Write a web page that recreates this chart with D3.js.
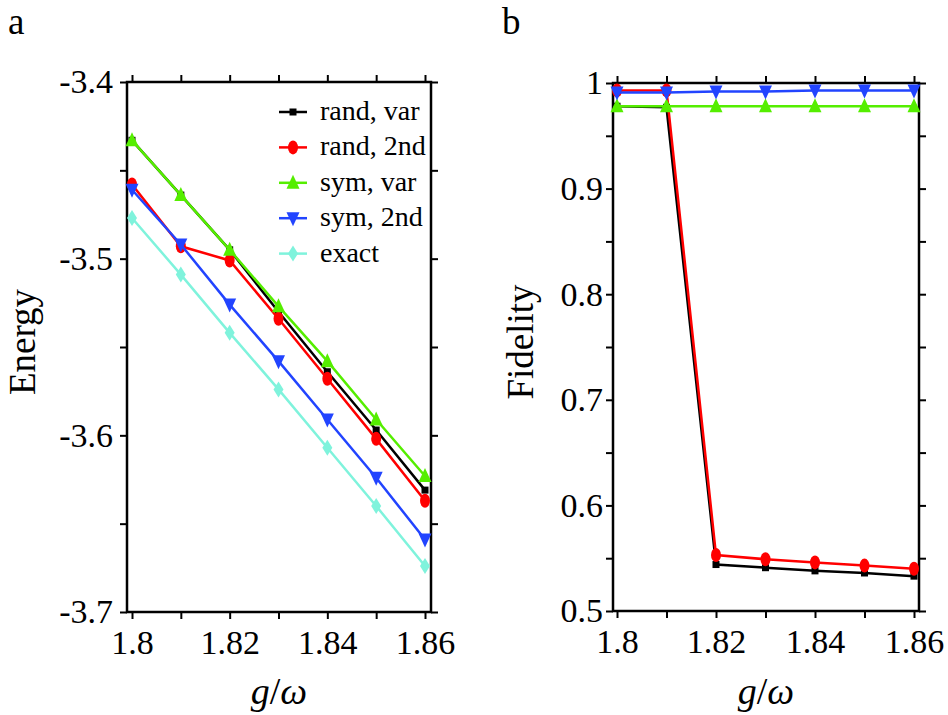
<!DOCTYPE html>
<html lang="en">
<head>
<meta charset="UTF-8">
<title>Energy and Fidelity</title>
<script src="https://d3js.org/d3.v7.min.js"></script>
<style>
  body { margin: 0; background: #fff; }
  svg text { font-family: "Liberation Serif", "Times New Roman", serif; fill: #000; }
  .domain { display: none; }
  .tick line { stroke: #000; stroke-width: 2; }
  .frame { fill: none; stroke: #000; stroke-width: 2.5; }
  .series { fill: none; stroke-width: 2.5; }
</style>
</head>
<body>
<svg width="948" height="715"></svg>
<script>
const gVals = [1.8, 1.81, 1.82, 1.83, 1.84, 1.85, 1.86];

// panel a: energy
const randVarE = [-3.433, -3.464, -3.495, -3.530, -3.564, -3.597, -3.631];
const rand2ndE = [-3.458, -3.493, -3.501, -3.534, -3.568, -3.602, -3.637];
const symVarE  = [-3.433, -3.464, -3.495, -3.527, -3.558, -3.591, -3.623];
const sym2ndE  = [-3.461, -3.492, -3.526, -3.558, -3.591, -3.624, -3.659];
const exactE   = [-3.477, -3.509, -3.542, -3.574, -3.607, -3.640, -3.674];

// panel b: fidelity
const randVarF = [0.978, 0.977, 0.544, 0.541, 0.538, 0.536, 0.533];
const rand2ndF = [0.993, 0.993, 0.553, 0.549, 0.546, 0.543, 0.540];
const symVarF  = [0.978, 0.978, 0.978, 0.978, 0.978, 0.978, 0.978];
const sym2ndF  = [0.991, 0.991, 0.992, 0.992, 0.993, 0.993, 0.993];

const names  = ["rand, var", "rand, 2nd", "sym, var", "sym, 2nd", "exact"];
const colors = ["#000000", "#ff0000", "#55ee00", "#2244ff", "#7ff3dc"];
const shapes = ["square", "circle", "up", "down", "diamond"];

const xMajor = [1.8, 1.82, 1.84, 1.86];
const xMinor = [1.81, 1.83, 1.85];
const eMajor = [-3.4, -3.5, -3.6, -3.7];
const eMinor = [-3.45, -3.55, -3.65];
const fMajor = [1, 0.9, 0.8, 0.7, 0.6, 0.5];
const fMinor = [0.95, 0.85, 0.75, 0.65, 0.55];

const serif = '"Liberation Serif", "Times New Roman", serif';
const svg = d3.select("svg");

function marker(g, shape, color) {
  if (shape === "square") {
    g.append("rect").attr("x", -3.5).attr("y", -3.5).attr("width", 7).attr("height", 7).attr("fill", color);
  } else if (shape === "circle") {
    g.append("ellipse").attr("rx", 5).attr("ry", 7).attr("fill", color);
  } else if (shape === "up") {
    g.append("path").attr("d", "M0,-8L6.5,6L-6.5,6Z").attr("fill", color);
  } else if (shape === "down") {
    g.append("path").attr("d", "M0,8L6.5,-6L-6.5,-6Z").attr("fill", color);
  } else {
    g.append("path").attr("d", "M0,-8L5,0L0,8L-5,0Z").attr("fill", color);
  }
}

// strip d3's default sans font so the serif one applies
function clean(sel) {
  sel.attr("font-family", null).attr("font-size", null);
  sel.selectAll("text").style("font-family", serif).style("font-size", "34px");
}

function panel(o) {
  const x = d3.scaleLinear().domain([1.8, 1.86]).range(o.xr);
  const y = d3.scaleLinear().domain(o.yd).range([o.top, o.bottom]);
  const g = svg.append("g");

  g.append("rect").attr("class", "frame")
    .attr("x", o.left).attr("y", o.top)
    .attr("width", o.right - o.left).attr("height", o.bottom - o.top);

  const bot = g.append("g").attr("transform", `translate(0,${o.bottom})`);
  bot.call(d3.axisBottom(x).tickValues(xMajor).tickSize(7).tickPadding(11).tickFormat(d => String(d)));
  bot.append("g").call(d3.axisBottom(x).tickValues(xMinor).tickSize(7).tickFormat(""));
  clean(bot);
  g.append("g").attr("transform", `translate(0,${o.top})`)
    .call(d3.axisTop(x).tickValues(xMajor.concat(xMinor)).tickSize(7).tickFormat(""));

  const lft = g.append("g").attr("transform", `translate(${o.left},0)`);
  lft.call(d3.axisLeft(y).tickValues(o.yMajor).tickSize(7).tickPadding(o.pad).tickFormat(o.fmt));
  lft.append("g").call(d3.axisLeft(y).tickValues(o.yMinor).tickSize(7).tickFormat(""));
  clean(lft);
  g.append("g").attr("transform", `translate(${o.right},0)`)
    .call(d3.axisRight(y).tickValues(o.yMajor.concat(o.yMinor)).tickSize(7).tickFormat(""));

  const line = d3.line().x((d, i) => x(gVals[i])).y(d => y(d));
  o.data.forEach((vals, k) => {
    g.append("path").attr("class", "series").attr("d", line(vals)).attr("stroke", colors[k]);
    vals.forEach((v, i) => {
      const m = g.append("g").attr("transform", `translate(${x(gVals[i])},${y(v)})`);
      marker(m, shapes[k], colors[k]);
    });
  });

  const cx = (o.left + o.right) / 2;
  const xl = g.append("text").attr("x", cx).attr("y", 704)
    .attr("text-anchor", "middle").style("font-size", "38px").style("font-style", "italic");
  xl.append("tspan").text("g");
  xl.append("tspan").style("font-style", "normal").text("/");
  xl.append("tspan").text("ω");

  g.append("text")
    .attr("transform", `translate(${o.ylx},${(o.top + o.bottom) / 2 - 5}) rotate(-90)`)
    .attr("text-anchor", "middle").style("font-size", "37px").text(o.ylabel);

  g.append("text").attr("x", o.tagx).attr("y", 34).style("font-size", "37px").text(o.tag);
  return { g, x, y };
}

const a = panel({
  xr: [132, 425], left: 127, right: 431, top: 82, bottom: 612,
  yd: [-3.4, -3.7], yMajor: eMajor, yMinor: eMinor, pad: 7,
  fmt: d => d.toFixed(1), data: [randVarE, rand2ndE, symVarE, sym2ndE, exactE],
  ylabel: "Energy", ylx: 35, tag: "a", tagx: 8
});

panel({
  xr: [617, 914], left: 613, right: 919, top: 83, bottom: 611,
  yd: [1, 0.5], yMajor: fMajor, yMinor: fMinor, pad: 3,
  fmt: d => d === 1 ? "1" : d.toFixed(1), data: [randVarF, rand2ndF, symVarF, sym2ndF],
  ylabel: "Fidelity", ylx: 533, tag: "b", tagx: 502
});

// legend in panel a
const leg = a.g.append("g");
names.forEach((n, k) => {
  const yy = 112 + k * 35.4;
  leg.append("line").attr("x1", 279).attr("x2", 307).attr("y1", yy).attr("y2", yy)
    .attr("stroke", colors[k]).attr("stroke-width", 2.5);
  marker(leg.append("g").attr("transform", `translate(293,${yy})`), shapes[k], colors[k]);
  leg.append("text").attr("x", 320).attr("y", yy + 8).style("font-size", "28px").text(n);
});
</script>
</body>
</html>
